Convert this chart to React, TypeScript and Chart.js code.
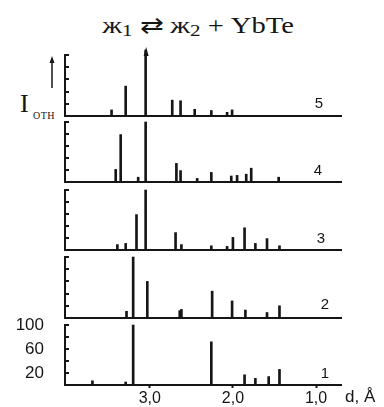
import React, { useEffect, useRef } from 'react';
import { Chart, registerables } from 'chart.js';

Chart.register(...registerables);

// ---- data ----
const panelNames = ['5', '4', '3', '2', '1'];
const p5D = [3.46, 3.29, 3.05, 2.73, 2.63, 2.46, 2.26, 2.07, 2.01];
const p5I = [10, 49, 108, 26, 25, 11, 9, 6, 10];
const p4D = [3.41, 3.35, 3.14, 3.05, 2.68, 2.63, 2.43, 2.26, 2.02, 1.95, 1.84, 1.78, 1.45];
const p4I = [21, 79, 8, 100, 31, 19, 6, 16, 10, 11, 13, 23, 8];
const p3D = [3.39, 3.29, 3.16, 3.05, 2.69, 2.62, 2.26, 2.07, 2.0, 1.86, 1.73, 1.59, 1.44];
const p3I = [9, 11, 59, 100, 29, 9, 7, 6, 21, 37, 11, 19, 7];
const p2D = [3.28, 3.2, 3.03, 2.64, 2.62, 2.25, 2.01, 1.85, 1.59, 1.44];
const p2I = [11, 100, 60, 12, 14, 44, 28, 13, 9, 20];
const p1D = [3.69, 3.29, 3.2, 2.26, 1.86, 1.73, 1.57, 1.44];
const p1I = [7, 5, 100, 72, 17, 11, 14, 26];
const xTicks = [3, 2, 1];
const yTicks = [20, 40, 60, 80, 100];
const yLabelled = [100, 60, 20];
const xMin = 0.7;
const xMax = 4.02;

const INK = '#161616';
const SANS = "'Liberation Sans', Arial, sans-serif";
const SERIF = "'Liberation Serif', 'Times New Roman', serif";

const PADT = 10;

type PanelSpec = {
  d: number[];
  I: number[];
  top: number;
  bottom: number;
  name: string;
  nx: number;
  ny: number;
  bottomAxis: boolean;
  arrow: boolean;
};

const panels: PanelSpec[] = [
  { d: p5D, I: p5I, top: 55, bottom: 116, name: panelNames[0], nx: 319, ny: 103, bottomAxis: false, arrow: true },
  { d: p4D, I: p4I, top: 122, bottom: 182, name: panelNames[1], nx: 318, ny: 170, bottomAxis: false, arrow: false },
  { d: p3D, I: p3I, top: 190, bottom: 250, name: panelNames[2], nx: 321, ny: 238, bottomAxis: false, arrow: false },
  { d: p2D, I: p2I, top: 257, bottom: 318, name: panelNames[3], nx: 325, ny: 304, bottomAxis: false, arrow: false },
  { d: p1D, I: p1I, top: 325, bottom: 385, name: panelNames[4], nx: 325, ny: 373, bottomAxis: true, arrow: false },
];

const inTicks = {
  id: 'inTicks',
  afterDatasetsDraw(chart: any, _args: any, opts: any) {
    const ys = chart.scales.y;
    const ctx = chart.ctx;
    const left = chart.chartArea.left;
    ctx.save();
    ctx.strokeStyle = INK;
    ctx.lineWidth = 2;
    yTicks.forEach((v) => {
      const py = Math.round(ys.getPixelForValue(v));
      ctx.beginPath();
      ctx.moveTo(left, py);
      ctx.lineTo(left + 4, py);
      ctx.stroke();
    });
    if (opts && opts.arrow) {
      const meta = chart.getDatasetMeta(0);
      let best = 0;
      const data = chart.data.datasets[0].data as any[];
      data.forEach((p, i) => {
        if (p.y > data[best].y) best = i;
      });
      const el: any = meta.data[best];
      if (el) {
        const x = el.x;
        const y = el.y;
        ctx.fillStyle = INK;
        ctx.beginPath();
        ctx.moveTo(x + 0.5, y - 3);
        ctx.lineTo(x + 3, y + 6);
        ctx.lineTo(x - 2, y + 6);
        ctx.closePath();
        ctx.fill();
      }
    }
    ctx.restore();
  },
};

function Panel({ spec }: { spec: PanelSpec }) {
  const ref = useRef<HTMLCanvasElement | null>(null);
  const extra = spec.bottomAxis ? 22 : 3;
  const h = spec.bottom - spec.top + PADT + extra;

  useEffect(() => {
    if (!ref.current) return;
    const chart = new Chart(ref.current, {
      type: 'bar',
      data: {
        datasets: [
          {
            data: spec.d.map((x, i) => ({ x, y: spec.I[i] })),
            backgroundColor: INK,
            barThickness: 2,
            clip: false as any,
          } as any,
        ],
      },
      options: {
        responsive: false,
        animation: false,
        devicePixelRatio: 1,
        layout: { padding: { top: PADT, left: 0, right: 43, bottom: 0 } },
        plugins: {
          legend: { display: false },
          tooltip: { enabled: false },
          inTicks: { arrow: spec.arrow },
        } as any,
        scales: {
          x: {
            type: 'linear',
            reverse: true,
            min: xMin,
            max: xMax,
            offset: false,
            afterBuildTicks: (s: any) => {
              s.ticks = xTicks.map((v) => ({ value: v }));
            },
            afterFit: (s: any) => {
              s.height = extra;
              s.paddingLeft = 0;
              s.paddingRight = 0;
              s.paddingTop = 0;
              s.paddingBottom = 0;
            },
            grid: {
              display: true,
              drawOnChartArea: false,
              drawTicks: spec.bottomAxis,
              tickLength: 3,
              tickWidth: 2,
              color: INK,
              offset: false,
            },
            border: { display: true, color: INK, width: 2 },
            ticks: {
              display: spec.bottomAxis,
              padding: 1,
              color: INK,
              font: { family: SANS, size: 16 },
              maxRotation: 0,
              autoSkip: false,
              callback: (v: any) => Number(v).toFixed(1).replace('.', ','),
            },
          },
          y: {
            type: 'linear',
            min: 0,
            max: 100,
            afterBuildTicks: (s: any) => {
              s.ticks = yTicks.map((v) => ({ value: v }));
            },
            afterFit: (s: any) => {
              s.width = 65;
              s.paddingTop = 0;
              s.paddingBottom = 0;
              s.paddingLeft = 0;
              s.paddingRight = 0;
            },
            grid: { display: false, drawOnChartArea: false, drawTicks: false },
            border: { display: true, color: INK, width: 2 },
            ticks: {
              display: spec.bottomAxis,
              padding: 21,
              color: INK,
              font: { family: SANS, size: 17 },
              autoSkip: false,
              callback: (v: any) => (yLabelled.includes(Number(v)) ? String(v) : ''),
            },
          },
        },
      } as any,
      plugins: [inTicks as any],
    });
    return () => chart.destroy();
  }, []);

  return (
    <canvas
      ref={ref}
      width={384}
      height={h}
      style={{ position: 'absolute', left: 0, top: spec.top - PADT, width: 384, height: h }}
    />
  );
}

const subStyle: React.CSSProperties = { fontSize: 17, verticalAlign: -3 };

export default function App() {
  return (
    <div
      style={{
        position: 'absolute',
        left: 0,
        top: 0,
        width: 384,
        height: 407,
        overflow: 'hidden',
        background: '#ffffff',
        color: INK,
      }}
    >
      <div
        style={{
          position: 'absolute',
          left: 0,
          top: 12,
          width: 396,
          textAlign: 'center',
          fontFamily: SERIF,
          fontSize: 23,
          lineHeight: '28px',
          whiteSpace: 'nowrap',
          transform: 'scaleX(1.24)',
          transformOrigin: '198px 0',
        }}
      >
        ж<span style={subStyle}>1</span> ⇄ ж<span style={subStyle}>2</span> + YbTe
      </div>

      <svg style={{ position: 'absolute', left: 46, top: 53 }} width={12} height={40}>
        <line x1={6} y1={8} x2={6} y2={35} stroke={INK} strokeWidth={1.5} />
        <polygon points="6,3 3.5,10 8.5,10" fill={INK} />
      </svg>
      <div
        style={{
          position: 'absolute',
          left: 20,
          top: 90,
          fontFamily: SERIF,
          fontSize: 26,
          lineHeight: '28px',
        }}
      >
        I
      </div>
      <div
        style={{
          position: 'absolute',
          left: 33,
          top: 110,
          fontFamily: SERIF,
          fontSize: 10,
          lineHeight: '12px',
          textTransform: 'uppercase',
          letterSpacing: 0.5,
        }}
      >
        отн
      </div>

      {panels.map((p, i) => (
        <Panel key={i} spec={p} />
      ))}

      {panels.map((p, i) => (
        <div
          key={'n' + i}
          style={{
            position: 'absolute',
            left: p.nx,
            top: p.ny,
            transform: 'translate(-50%, -50%)',
            fontFamily: SANS,
            fontSize: 15,
            lineHeight: '16px',
          }}
        >
          {p.name}
        </div>
      ))}

      <div
        style={{
          position: 'absolute',
          left: 345,
          top: 388,
          fontFamily: SANS,
          fontSize: 17,
          lineHeight: '18px',
          whiteSpace: 'nowrap',
        }}
      >
        d, Å
      </div>
    </div>
  );
}
